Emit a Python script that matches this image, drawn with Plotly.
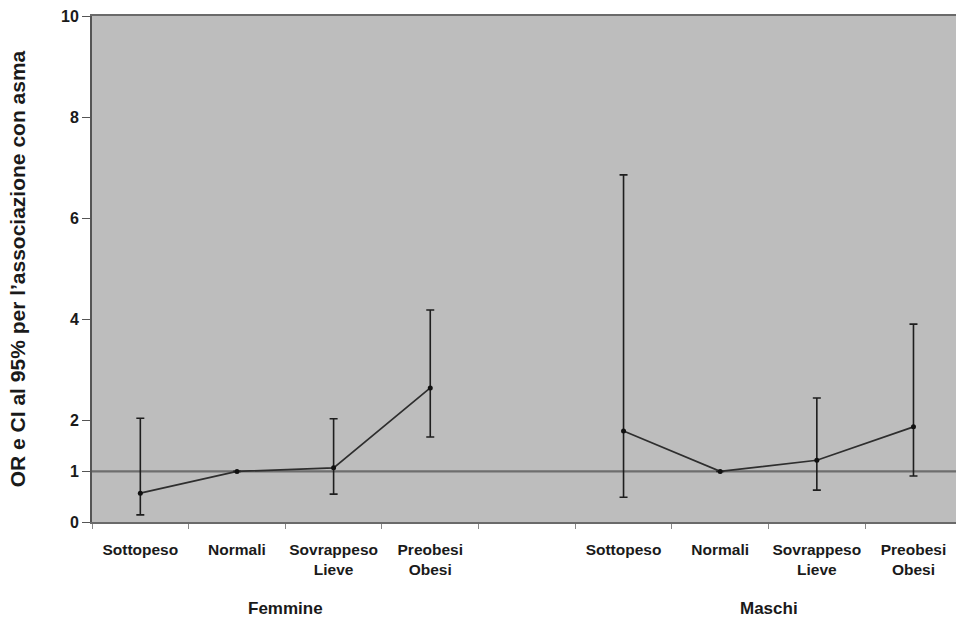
import plotly.graph_objects as go

categories = ["Sottopeso", "Normali", "Sovrappeso<br>Lieve", "Preobesi<br>Obesi", "",
              "Sottopeso", "Normali", "Sovrappeso<br>Lieve", "Preobesi<br>Obesi"]
groups = ["Femmine", "Maschi"]
group_centers = [1.5, 6.5]

fem_x = [0, 1, 2, 3]
fem_or = [0.57, 1.0, 1.07, 2.65]
fem_hi = [2.05, 1.0, 2.04, 4.19]
fem_lo = [0.14, 1.0, 0.55, 1.68]

mas_x = [5, 6, 7, 8]
mas_or = [1.80, 1.0, 1.22, 1.88]
mas_hi = [6.86, 1.0, 2.45, 3.91]
mas_lo = [0.49, 1.0, 0.63, 0.91]

y_ticks = [0, 1, 2, 4, 6, 8, 10]
ref_value = 1

FONT = "Liberation Sans, Arial, sans-serif"

fig = go.Figure()

def add_series(xs, ors, his, los):
    fig.add_trace(go.Scatter(
        x=xs, y=ors, mode="lines+markers",
        line=dict(color="#2e2e2e", width=1.7),
        marker=dict(color="#111111", size=5),
        error_y=dict(type="data", symmetric=False,
                     array=[h - o for h, o in zip(his, ors)],
                     arrayminus=[o - l for o, l in zip(ors, los)],
                     color="#1e1e1e", thickness=1.6, width=4),
        showlegend=False, hoverinfo="skip"))

add_series(fem_x, fem_or, fem_hi, fem_lo)
add_series(mas_x, mas_or, mas_hi, mas_lo)

fig.add_shape(type="line", xref="paper", x0=0, x1=1, yref="y", y0=ref_value, y1=ref_value,
              line=dict(color="#6e6e6e", width=2.2), layer="below")

for g, cx in zip(groups, group_centers):
    fig.add_annotation(x=cx, y=-0.17, xref="x", yref="paper", yanchor="middle",
                       text="<b>" + g + "</b>",
                       showarrow=False, font=dict(family=FONT, size=17, color="#1a1a1a"))

fig.update_layout(
    width=958, height=619,
    margin=dict(l=92, r=2, t=16, b=97),
    paper_bgcolor="white", plot_bgcolor="#bdbdbd",
    font=dict(family=FONT, color="#1a1a1a"),
    xaxis=dict(range=[-0.5, 8.44], tickmode="array", automargin=False,
               tickvals=list(range(len(categories))),
               ticktext=["<b>" + c + "</b>" if c else "" for c in categories],
               ticks="", tickfont=dict(size=15.5, family=FONT, color="#1a1a1a"),
               ticklabelstandoff=12,
               showgrid=False, zeroline=False,
               showline=True, linecolor="#6a6a6a", linewidth=2, mirror=True,
               minor=dict(tickvals=[i + 0.5 for i in range(-1, 9)], ticks="outside",
                          ticklen=5, tickcolor="#888888", tickwidth=1)),
    yaxis=dict(range=[0, 10], tickmode="array", tickvals=y_ticks, automargin=False,
               ticktext=["<b>%d</b>" % v for v in y_ticks],
               ticks="outside", ticklen=8, tickcolor="#555555", tickwidth=1,
               tickfont=dict(size=16, family=FONT, color="#1a1a1a"),
               showgrid=False, zeroline=False,
               showline=True, linecolor="#555555", linewidth=2,
               title=dict(text="<b>OR e CI al 95% per l\u2019associazione con asma</b>",
                          font=dict(size=21, family=FONT, color="#1a1a1a"), standoff=30)),
)

fig.write_html("out.html", config={"displayModeBar": False},
               post_script="document.body.style.margin='0';document.body.style.overflow='hidden';")
